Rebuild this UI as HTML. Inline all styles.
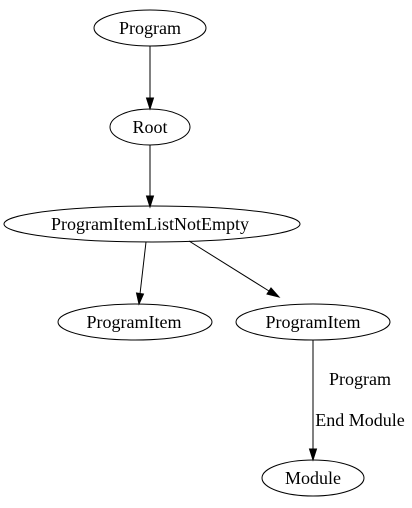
<!DOCTYPE html>
<html><head><style>html,body{margin:0;padding:0;background:#fff}svg{display:block}</style></head>
<body>
<svg width="412" height="508" viewBox="0 0 412 508" xmlns="http://www.w3.org/2000/svg" font-family="Liberation Serif, serif" font-size="18">
<rect width="412" height="508" fill="#fff"/>
<g fill="none" stroke="#000" stroke-width="1">
<ellipse cx="150" cy="28" rx="56" ry="18"/>
<ellipse cx="150" cy="127" rx="40" ry="18"/>
<ellipse cx="152" cy="224" rx="148" ry="18"/>
<ellipse cx="135" cy="322" rx="77" ry="18"/>
<ellipse cx="313" cy="322" rx="77" ry="18"/>
<ellipse cx="313" cy="478" rx="51" ry="18"/>
<line x1="150" y1="46" x2="150" y2="98"/>
<line x1="150" y1="145" x2="150" y2="196"/>
<line x1="146" y1="242" x2="140" y2="294"/>
<line x1="189" y1="241" x2="269" y2="291"/>
<line x1="313" y1="340" x2="313" y2="449"/>
</g>
<g fill="#000" stroke="#000">
<polygon points="146.5,98 153.5,98 150,109"/>
<polygon points="146.5,196 153.5,196 150,207"/>
<polygon points="136.5,293 143.5,294 139,304"/>
<polygon points="267,294 271,288 279,297"/>
<polygon points="309.5,449 316.5,449 313,460"/>
</g>
<g text-anchor="middle" fill="#000">
<text x="150" y="34">Program</text>
<text x="150" y="133">Root</text>
<text x="150" y="230">ProgramItemListNotEmpty</text>
<text x="134" y="328">ProgramItem</text>
<text x="313" y="328">ProgramItem</text>
<text x="313" y="484">Module</text>
<text x="360" y="385">Program</text>
<text x="360" y="426">End Module</text>
</g>
</svg>
</body></html>
